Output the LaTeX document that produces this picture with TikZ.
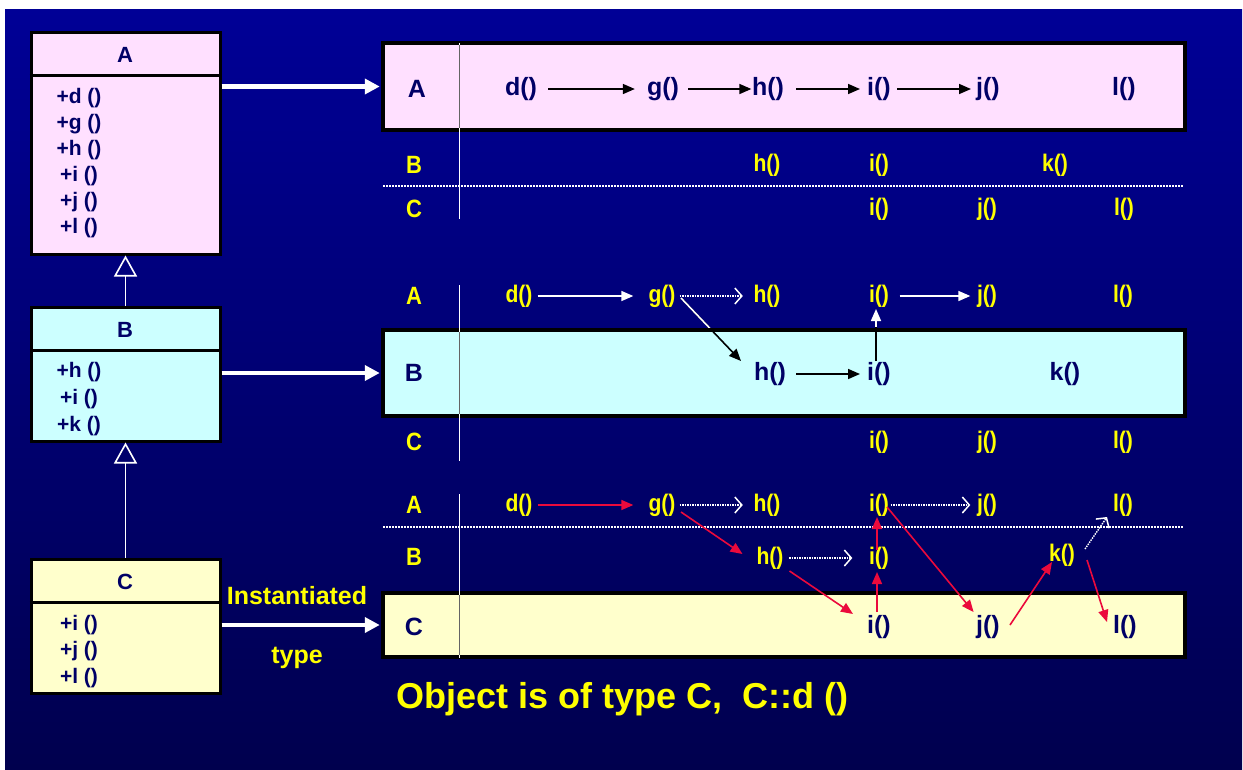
\documentclass[tikz,border=0pt]{standalone}
\usepackage{fontspec}
\setmainfont{Liberation Sans}
\newfontfamily\cndfont[FakeStretch=0.88]{Liberation Sans}
\usetikzlibrary{arrows.meta,calc}
\definecolor{bgtop}{RGB}{0,0,150}
\definecolor{bgbot}{RGB}{0,0,78}
\definecolor{pinkf}{RGB}{255,224,255}
\definecolor{cyanf}{RGB}{204,255,255}
\definecolor{yelf}{RGB}{255,255,204}
\definecolor{navy}{RGB}{0,0,102}
\definecolor{yel}{RGB}{255,255,0}
\definecolor{redar}{RGB}{235,10,60}
\definecolor{sepgray}{RGB}{100,100,100}
\newcommand\fsz[1]{\fontsize{#1}{#1}\selectfont\bfseries}
\newcommand\cfsz[1]{\cndfont\fontsize{#1}{#1}\selectfont\bfseries}
\tikzset{
  clsbox/.style={draw=black, line width=3pt, minimum width=189pt, inner sep=0pt},
  rowbox/.style={draw=black, line width=4.5pt, minimum width=802pt, inner sep=0pt},
  hdr/.style={text=navy, font=\fsz{22}, inner sep=0pt},
  inlbl/.style={text=navy, font=\fsz{25}, inner sep=0pt},
  infn/.style={text=navy, font=\fsz{25}, inner sep=0pt},
  ylbl/.style={text=yel, font=\cfsz{25}, inner sep=0pt},
  yfn/.style={text=yel, font=\cfsz{24}, inner sep=0pt},
  blk/.style={-{Triangle[length=12pt,width=10pt]}, line width=1.6pt, black},
  wht/.style={-{Triangle[length=12pt,width=10pt]}, line width=1.6pt, white},
  reda/.style={-{Triangle[length=12pt,width=10pt]}, line width=1.6pt, redar},
  dota/.style={-{Straight Barb[length=7pt,width=16pt,line width=1.5pt]}, line width=1.4pt, white, dash pattern=on 1.5pt off 1pt},
  biga/.style={-{Triangle[length=15pt,width=15pt]}, line width=4.5pt, white},
  inh/.style={-{Triangle[open,length=21pt,width=23pt]}, line width=1.6pt, white},
  vsep/.style={white, line width=1.5pt},
  vsepin/.style={sepgray, line width=1.5pt},
  hsep/.style={white, line width=1.4pt, dash pattern=on 1.5pt off 1.5pt}
}
\begin{document}
\begin{tikzpicture}[x=1pt,y={(0pt,-1pt)}]
\useasboundingbox (0,0) rectangle (1243,769);
\fill[white] (0,0) rectangle (1243,769);
\shade[top color=bgtop,bottom color=bgbot] (5,9) rectangle (1242,769);

% ---------- class boxes ----------
\node[clsbox, fill=pinkf, minimum height=222pt] (clsA) at (125.5,143) {};
\draw[line width=3pt] ($(clsA.north west)+(0,45)$) -- ($(clsA.north east)+(0,45)$);
\node[hdr] (hA) at (125,55) {A};
\node[text=navy, font=\fontsize{21}{26}\selectfont\bfseries, align=center, inner sep=0pt] (mA) at (79,163.5) {+d ()\\+g ()\\+h ()\\+i ()\\+j ()\\+l ()};

\node[clsbox, fill=cyanf, minimum height=134pt] (clsB) at (125.5,374) {};
\draw[line width=3pt] ($(clsB.north west)+(0,45)$) -- ($(clsB.north east)+(0,45)$);
\node[hdr] (hB) at (125,330) {B};
\node[text=navy, font=\fontsize{21}{27}\selectfont\bfseries, align=center, inner sep=0pt] (mB) at (79,399) {+h ()\\+i ()\\+k ()};

\node[clsbox, fill=yelf, minimum height=134pt] (clsC) at (125.5,626) {};
\draw[line width=3pt] ($(clsC.north west)+(0,45)$) -- ($(clsC.north east)+(0,45)$);
\node[hdr] (hC) at (125,582) {C};
\node[text=navy, font=\fontsize{21}{26.5}\selectfont\bfseries, align=center, inner sep=0pt] (mC) at (79,651.5) {+i ()\\+j ()\\+l ()};

\draw[inh] (clsB.north) -- (clsA.south);
\draw[inh] (clsC.north) -- (clsB.south);

% ---------- row boxes ----------
\node[rowbox, fill=pinkf, minimum height=87pt] (rowA) at (784,86.5) {};
\node[rowbox, fill=cyanf, minimum height=86pt] (rowB) at (784,373) {};
\node[rowbox, fill=yelf, minimum height=64pt] (rowC) at (784,625) {};

\draw[biga] (clsA.east |- rowA.west) -- ([xshift=-1pt]rowA.west);
\draw[biga] (clsB.east |- rowB.west) -- ([xshift=-1pt]rowB.west);
\draw[biga] (clsC.east |- rowC.west) -- ([xshift=-1pt]rowC.west);

\node[text=yel, font=\fsz{25}, inner sep=0pt] (inst) at (297,596) {Instantiated};
\node[text=yel, font=\fsz{25}, inner sep=0pt] (typ) at (297,658) {type};

% separators
\draw[vsep] (459.5,43) -- (459.5,219);
\draw[vsepin] (459.5,45) -- (459.5,128);
\draw[vsep] (459.5,285) -- (459.5,461);
\draw[vsepin] (459.5,332) -- (459.5,414);
\draw[vsep] (459.5,494) -- (459.5,658);
\draw[vsepin] (459.5,595) -- (459.5,655);
\draw[hsep] (383,186) -- (1183,186);
\draw[hsep] (383,527) -- (1183,527);

% ---------- top section ----------
\node[inlbl] (rA1) at (417,89) {A};
\node[infn] (d1) at (521,89) {d()};
\node[infn] (g1) at (663,89) {g()};
\node[infn] (h1) at (768,89) {h()};
\node[infn] (i1) at (879,89) {i()};
\node[infn] (j1) at (988,89) {j()};
\node[infn] (l1) at (1124,89) {l()};
\node[ylbl] (rB1) at (414,165) {B};
\node[yfn] (hB1) at (767,165) {h()};
\node[yfn] (iB1) at (879,165) {i()};
\node[yfn] (kB1) at (1055,165) {k()};
\node[ylbl] (rC1) at (414,209) {C};
\node[yfn] (iC1) at (879,209) {i()};
\node[yfn] (jC1) at (987,209) {j()};
\node[yfn] (lC1) at (1124,209) {l()};

\draw[blk, shorten <=11pt, shorten >=12pt] (d1.east) -- (g1.west);
\draw[blk, shorten <=9pt, shorten >=0.5pt] (g1.east) -- (h1.west);
\draw[blk, shorten <=12pt, shorten >=7pt] (h1.east) -- (i1.west);
\draw[blk, shorten <=6pt, shorten >=5pt] (i1.east) -- (j1.west);

% ---------- middle section ----------
\node[ylbl] (rA2) at (414,296) {A};
\node[yfn] (d2) at (519,296) {d()};
\node[yfn] (g2) at (662,296) {g()};
\node[yfn] (h2) at (767,296) {h()};
\node[yfn] (i2) at (879,296) {i()};
\node[yfn] (j2) at (987,296) {j()};
\node[yfn] (l2) at (1123,296) {l()};
\node[inlbl] (rB2) at (414,373) {B};
\node[infn] (hB2) at (770,374) {h()};
\node[infn] (iB2) at (879,374) {i()};
\node[infn] (kB2) at (1065,374) {k()};
\node[ylbl] (rC2) at (414,442) {C};
\node[yfn] (iC2) at (879,442) {i()};
\node[yfn] (jC2) at (987,442) {j()};
\node[yfn] (lC2) at (1123,442) {l()};

\draw[wht, shorten <=5pt, shorten >=15pt] (d2.east) -- (g2.west);
\draw[dota, shorten <=4pt, shorten >=10.5pt] (g2.east) -- (h2.west);
\draw[wht, shorten <=10.5pt, shorten >=6.5pt] (i2.east) -- (j2.west);
\draw[blk, shorten <=10pt, shorten >=7pt] (hB2.east) -- (iB2.west);

\draw[blk] ($(g2)+(19,2)$) -- ($(hB2)+(-29,-13)$);
\begin{scope}
  \clip (0,0) rectangle (rowB.north east);
  \draw[white, line width=1.6pt] ($(g2)+(19,2)$) -- ($(hB2)+(-29,-13)$);
\end{scope}
\draw[wht] ($(iB2)+(-3,-13)$) -- ($(i2)+(-3,13)$);
\begin{scope}
  \clip (rowB.north west) rectangle (rowB.south east);
  \draw[black, line width=1.6pt] ($(iB2)+(-3,-13)$) -- ($(i2)+(-3,13)$);
\end{scope}

% ---------- bottom section ----------
\node[ylbl] (rA3) at (414,505) {A};
\node[yfn] (d3) at (519,505) {d()};
\node[yfn] (g3) at (662,505) {g()};
\node[yfn] (h3) at (767,505) {h()};
\node[yfn] (i3) at (879,505) {i()};
\node[yfn] (j3) at (987,505) {j()};
\node[yfn] (l3) at (1123,505) {l()};
\node[ylbl] (rB3) at (414,557) {B};
\node[yfn] (hB3) at (770,558) {h()};
\node[yfn] (iB3) at (879,558) {i()};
\node[yfn] (kB3) at (1062,555) {k()};
\node[inlbl] (rC3) at (414,627) {C};
\node[infn] (iC3) at (879,627) {i()};
\node[infn] (jC3) at (988,627) {j()};
\node[infn] (lC3) at (1125,627) {l()};

\draw[reda, shorten <=5pt, shorten >=15pt] (d3.east) -- (g3.west);
\draw[dota, shorten <=4pt, shorten >=10.5pt] (g3.east) -- (h3.west);
\draw[dota, shorten <=1.5pt, shorten >=6.5pt] (i3.east) -- (j3.west);
\draw[dota, shorten <=5.5pt, shorten >=16.5pt] (hB3.east) -- (iB3.west);
\draw[reda] ($(g3)+(19,7)$) -- ($(hB3)+(-27.5,-4)$);
\draw[reda] ($(hB3)+(19.5,13)$) -- ($(iC3)+(-26,-13)$);
\draw[reda] ($(iC3)+(-2,-15)$) -- ($(iB3)+(-2,14)$);
\draw[reda] ($(iB3)+(-2,-8)$) -- ($(i3)+(-2,12)$);
\draw[reda] ($(i3)+(8,2)$) -- ($(jC3)+(-14.4,-15)$);
\draw[reda] ($(jC3)+(22,-2)$) -- ($(kB3)+(-10,7)$);
\draw[dota] ($(kB3)+(23,-6)$) -- ($(l3)+(-16,12)$);
\draw[reda] ($(kB3)+(25,5)$) -- ($(lC3)+(-18,-5)$);

% caption
\node[anchor=west, text=yel, font=\fsz{36}, inner sep=0pt] (cap) at (396.5,699) {Object is of type C,\ \ C::d ()};
\end{tikzpicture}
\end{document}
